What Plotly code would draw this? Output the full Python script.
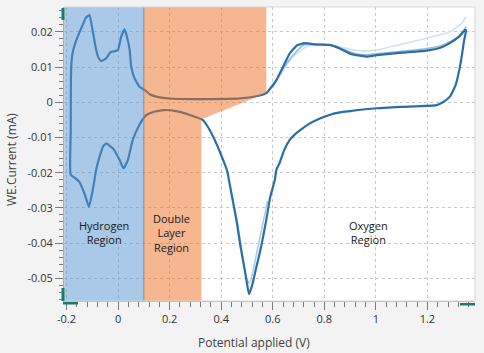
import plotly.graph_objects as go

# ---- main (latest) cycle ----
main_x = [-0.184, -0.1835, -0.183, -0.181, -0.175, -0.16, -0.14, -0.125, -0.111, -0.098, -0.085,
          -0.075, -0.065, -0.046, -0.03, -0.02, -0.008, 0.0, 0.012, 0.025, 0.035, 0.045, 0.051,
          0.064, 0.083, 0.103, 0.125, 0.148, 0.213, 0.343, 0.472, 0.54, 0.575, 0.588, 0.614,
          0.64, 0.666, 0.695, 0.724, 0.77, 0.821, 0.86, 0.9, 0.925, 0.964, 1.003, 1.1, 1.197,
          1.25, 1.287, 1.32, 1.345, 1.35,
          1.342, 1.335, 1.326, 1.31, 1.287, 1.26, 1.236, 1.1, 1.003, 0.9, 0.85, 0.82, 0.783,
          0.744, 0.705, 0.685, 0.666, 0.645, 0.625, 0.614, 0.608, 0.59, 0.575, 0.555, 0.534,
          0.52, 0.508, 0.5, 0.4913, 0.475, 0.459, 0.44, 0.4225, 0.4, 0.375, 0.351, 0.328, 0.278,
          0.23, 0.18, 0.14, 0.11, 0.103, 0.083, 0.057, 0.038, 0.021, 0.006, -0.02, -0.03,
          -0.046, -0.058, -0.072, -0.085, -0.098, -0.113, -0.13, -0.15, -0.165, -0.184]
main_y = [-0.0205, -0.008, 0.006, 0.011, 0.0145, 0.018, 0.0215, 0.024, 0.0248, 0.0201, 0.0149,
          0.0125, 0.0117, 0.0125, 0.0142, 0.0144, 0.0146, 0.0149, 0.0186, 0.0207, 0.0185, 0.0149,
          0.0101, 0.0068, 0.0044, 0.0035, 0.0022, 0.0016, 0.001, 0.0009, 0.0011, 0.0018, 0.0026,
          0.0037, 0.0063, 0.0101, 0.0139, 0.0162, 0.0168, 0.0164, 0.0163, 0.0153, 0.0138,
          0.0134, 0.013, 0.0134, 0.0141, 0.0147, 0.0155, 0.0168, 0.0185, 0.0205, 0.0205,
          0.0175, 0.014, 0.0101, 0.005, 0.0016, 0.0, -0.0008, -0.0013, -0.0017, -0.0025,
          -0.003, -0.0036, -0.0046, -0.006, -0.008, -0.0092, -0.0107, -0.0135, -0.0175,
          -0.0192, -0.0221, -0.027, -0.0334, -0.041, -0.0476, -0.052, -0.0545, -0.0515,
          -0.0476, -0.041, -0.0334, -0.026, -0.0193, -0.015, -0.0107, -0.0073, -0.005,
          -0.0036, -0.0026, -0.0022, -0.0027, -0.0036, -0.0041, -0.0064, -0.0107, -0.0164,
          -0.0188, -0.0164, -0.0131, -0.0125, -0.0117, -0.0125, -0.0155, -0.0192, -0.0249,
          -0.0297, -0.026, -0.0226, -0.0216, -0.0205]

# ---- earlier cycles (only where they differ visibly) ----
c1_x = [0.6, 0.64, 0.68, 0.73, 0.77, 0.82, 0.86, 0.92, 0.96, 1.003, 1.1, 1.197, 1.25, 1.287, 1.33, 1.35]
c1_y = [0.004, 0.009, 0.013, 0.0158, 0.0163, 0.0162, 0.0158, 0.0148, 0.0146, 0.0149, 0.0165,
        0.0182, 0.0192, 0.020, 0.0222, 0.0243]
c2_x = [0.6, 0.64, 0.68, 0.72, 0.77, 0.82, 0.86, 0.92, 0.964, 1.003, 1.1, 1.197, 1.25, 1.287, 1.33, 1.35]
c2_y = [0.0045, 0.0095, 0.0135, 0.0163, 0.0165, 0.0163, 0.0155, 0.0138, 0.0135, 0.0138, 0.0145,
        0.0153, 0.016, 0.0172, 0.019, 0.0215]
trough_x = [0.44, 0.46, 0.48, 0.495, 0.508, 0.52, 0.54, 0.56, 0.58]
trough_y = [-0.026, -0.033, -0.042, -0.049, -0.0515, -0.049, -0.042, -0.035, -0.028]

# ---- regions ----
x_min, x_max = -0.2097, 1.3845
y_min, y_max = -0.05645, 0.02707
hydrogen_x = [x_min, 0.1]
double_x = [0.1, 0.575, 0.575, 0.323, 0.323, 0.1]
double_y = [y_max, y_max, 0.0026, -0.0048, y_min, y_min]
region_labels = ["Hydrogen<br>Region", "Double<br>Layer<br>Region", "Oxygen<br>Region"]
label_x = [-0.054, 0.208, 0.973]
label_y = [-0.037, -0.037, -0.037]

x_ticks = [-0.2, 0, 0.2, 0.4, 0.6, 0.8, 1.0, 1.2]
x_text = ["-0.2", "0", "0.2", "0.4", "0.6", "0.8", "1", "1.2"]
y_ticks = [-0.05, -0.04, -0.03, -0.02, -0.01, 0, 0.01, 0.02]
y_text = ["-0.05", "-0.04", "-0.03", "-0.02", "-0.01", "0", "0.01", "0.02"]

FONT = "Open Sans"

fig = go.Figure()
fig.add_trace(go.Scatter(x=c1_x, y=c1_y, mode="lines",
                         line=dict(color="#cfe2f3", width=1.6, shape="spline", smoothing=0.5),
                         hoverinfo="skip"))
fig.add_trace(go.Scatter(x=c2_x, y=c2_y, mode="lines",
                         line=dict(color="#94bde2", width=1.6, shape="spline", smoothing=0.5),
                         hoverinfo="skip"))
fig.add_trace(go.Scatter(x=trough_x, y=trough_y, mode="lines",
                         line=dict(color="#a9cbe9", width=1.6, shape="spline", smoothing=0.5),
                         hoverinfo="skip"))
fig.add_trace(go.Scatter(x=main_x, y=main_y, mode="lines",
                         line=dict(color="#2b6ea5", width=2.2, shape="spline", smoothing=0.4)))

shapes = []
# hydrogen region
shapes.append(dict(type="rect", xref="x", yref="y", x0=hydrogen_x[0], x1=hydrogen_x[1],
                   y0=y_min, y1=y_max, fillcolor="rgb(85,145,209)", opacity=0.5,
                   line=dict(width=0), layer="above"))
# double layer region
path = "M " + " L ".join(f"{a},{b}" for a, b in zip(double_x, double_y)) + " Z"
shapes.append(dict(type="path", xref="x", yref="y", path=path, fillcolor="rgb(235,109,33)",
                   opacity=0.5, line=dict(width=0), layer="above"))
# boundary line
shapes.append(dict(type="line", xref="x", yref="y", x0=0.1, x1=0.1, y0=y_min, y1=y_max,
                   line=dict(color="#8c8c8c", width=1), layer="above"))
# frame
shapes.append(dict(type="rect", xref="paper", yref="paper", x0=0, x1=1, y0=0, y1=1,
                   line=dict(color="#d6d6d6", width=1), layer="above"))
# teal slider handles
teal = "#1d7a6c"
W, H = 411.0, 294.0
def px(xp):
    return (xp - 64) / W
def py(yp):
    return (301 - yp) / H
shapes += [
    dict(type="rect", xref="paper", yref="paper", x0=px(61.5), x1=px(64.5), y0=py(20), y1=py(8),
         fillcolor=teal, line=dict(width=0), layer="above"),
    dict(type="rect", xref="paper", yref="paper", x0=px(61.5), x1=px(64.5), y0=py(301), y1=py(288),
         fillcolor=teal, line=dict(width=0), layer="above"),
    dict(type="rect", xref="paper", yref="paper", x0=px(63), x1=px(78), y0=py(304.5), y1=py(302),
         fillcolor=teal, line=dict(width=0), layer="above"),
    dict(type="rect", xref="paper", yref="paper", x0=px(460), x1=px(475), y0=py(305.5), y1=py(303),
         fillcolor=teal, line=dict(width=0), layer="above"),
]

annotations = []
for t, xx, yy in zip(region_labels, label_x, label_y):
    annotations.append(dict(x=xx, y=yy, xref="x", yref="y", text=t, showarrow=False,
                            font=dict(family=FONT, size=11, color="#1a1a1a"), align="center"))
annotations.append(dict(x=(254 - 64) / W, y=-41 / H, xref="paper", yref="paper",
                        text="Potential applied (V)", showarrow=False, yanchor="middle",
                        font=dict(family=FONT, size=12, color="#404040")))
annotations.append(dict(x=-53 / W, y=(301 - 159) / H, xref="paper", yref="paper",
                        text="WE.Current (mA)", showarrow=False, textangle=-90,
                        xanchor="center", yanchor="middle",
                        font=dict(family=FONT, size=12, color="#404040")))

fig.update_layout(
    width=484, height=353,
    margin=dict(l=64, r=9, t=7, b=52),
    paper_bgcolor="#f3f3f3", plot_bgcolor="white",
    showlegend=False,
    shapes=shapes, annotations=annotations,
    font=dict(family=FONT, size=11, color="#333333"),
)
fig.update_xaxes(range=[x_min, x_max], tickvals=x_ticks, ticktext=x_text,
                 showgrid=True, gridcolor="#c9c9c9", griddash="dot", gridwidth=1,
                 zeroline=False, showline=True, linecolor="#b0b0b0", linewidth=1,
                 ticks="outside", ticklen=8, tickcolor="#7a7a7a",
                 minor=dict(ticks="outside", ticklen=5, tickcolor="#7a7a7a", tick0=-0.2, dtick=0.04,
                            showgrid=False),
                 tickfont=dict(family=FONT, size=11, color="#333333"))
fig.update_yaxes(range=[y_min, y_max], tickvals=y_ticks, ticktext=y_text,
                 showgrid=True, gridcolor="#c9c9c9", griddash="dot", gridwidth=1,
                 zeroline=False, showline=True, linecolor="#8a8a8a", linewidth=1,
                 ticks="outside", ticklen=8, tickcolor="#7a7a7a",
                 minor=dict(ticks="outside", ticklen=4, tickcolor="#7a7a7a", tick0=0, dtick=0.002,
                            showgrid=False),
                 tickfont=dict(family=FONT, size=11, color="#333333"))

fig.write_html("out.html")
